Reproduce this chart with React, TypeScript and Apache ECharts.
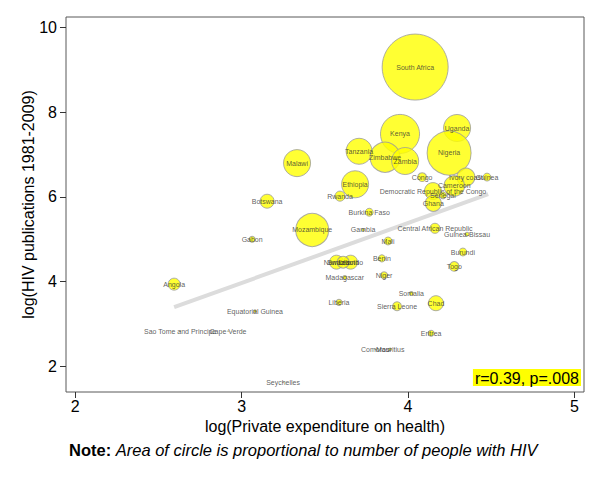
import React, { useEffect, useRef } from "react";
import * as echarts from "echarts";

const countries = [
  "South Africa", "Kenya", "Uganda", "Nigeria", "Tanzania", "Zimbabwe", "Zambia", "Malawi",
  "Ethiopia", "Rwanda", "Botswana", "Mozambique", "Gabon", "Angola", "Equatorial Guinea",
  "Sao Tome and Principe", "Cape Verde", "Seychelles", "Congo", "Ivory coast", "Guinea",
  "Cameroon", "Democratic Republic of the Congo", "Senegal", "Ghana", "Burkina Faso", "Gambia",
  "Central African Republic", "Guinea-Bissau", "Mali", "Burundi", "Benin", "Togo", "Namibia",
  "Lesotho", "Swaziland", "Madagascar", "Niger", "Somalia", "Liberia", "Sierra Leone", "Chad",
  "Eritrea", "Comoros", "Mauritius",
];
// log(Private expenditure on health)
const expenditure = [
  4.043, 3.952, 4.295, 4.247, 3.706, 3.862, 3.983, 3.333,
  3.682, 3.591, 3.153, 3.424, 3.063, 2.594, 3.08,
  2.63, 2.918, 3.249, 4.085, 4.348, 4.475,
  4.278, 4.15, 4.21, 4.152, 3.767, 3.73,
  4.162, 4.355, 3.88, 4.33, 3.843, 4.278, 3.57,
  3.655, 3.61, 3.62, 3.856, 4.02, 3.585, 3.934, 4.168,
  4.139, 3.803, 3.893,
];
// log(HIV publications 1981-2009)
const publications = [
  9.07, 7.49, 7.63, 7.04, 7.08, 6.94, 6.85, 6.8,
  6.3, 6.02, 5.9, 5.22, 5.0, 3.94, 3.3,
  2.83, 2.83, 1.62, 6.47, 6.47, 6.47,
  6.26, 6.14, 6.04, 5.85, 5.64, 5.22,
  5.26, 5.12, 4.96, 4.7, 4.55, 4.36, 4.46,
  4.46, 4.46, 4.1, 4.15, 3.72, 3.51, 3.42, 3.49,
  2.78, 2.4, 2.4,
];
// people living with HIV (thousands, estimated from circle areas)
const hivPeople = [
  5600, 1960, 940, 2490, 870, 1160, 940, 940,
  940, 130, 250, 1400, 46, 185, 12,
  1, 1, 1, 100, 415, 80,
  540, 370, 60, 330, 80, 10,
  130, 20, 80, 80, 63, 120, 250,
  250, 180, 20, 63, 20, 46, 100, 290,
  46, 1, 10,
];
const fitX = [2.594, 4.482];
const fitY = [3.395, 6.067];
const xTicks = [2, 3, 4, 5];
const yTicks = [2, 4, 6, 8, 10];

const FONT = 'Arial, "Liberation Sans", sans-serif';

export default function App() {
  const ref = useRef<HTMLDivElement>(null);
  useEffect(() => {
    if (!ref.current) return;
    const chart = echarts.init(ref.current, undefined, { renderer: "svg" });
    const pts = countries.map((c, i) => ({
      name: c,
      value: [expenditure[i], publications[i]],
      symbolSize: Math.max(2 * Math.sqrt(hivPeople[i] / 5.14), 0.5),
    }));
    const labelPts = countries.map((c, i) => ({
      name: c,
      value: [expenditure[i], publications[i]],
    }));
    const option: any = {
      animation: false,
      textStyle: { fontFamily: FONT },
      grid: {
        left: 66, top: 17, width: 518, height: 375,
        show: true, borderColor: "#595959", borderWidth: 1, backgroundColor: "#fff",
      },
      xAxis: {
        type: "value", min: 1.944, max: 5.058,
        axisLine: { show: false },
        splitLine: { show: false },
        axisTick: { show: true, length: 6, customValues: xTicks, lineStyle: { color: "#333" } },
        axisLabel: { customValues: xTicks, fontSize: 16, color: "#000", margin: 6, fontFamily: FONT },
        name: "log(Private expenditure on health)",
        nameLocation: "middle", nameGap: 25,
        nameTextStyle: { fontSize: 16, color: "#000", fontFamily: FONT },
      },
      yAxis: {
        type: "value", min: 1.392, max: 10.253,
        axisLine: { show: false },
        splitLine: { show: false },
        axisTick: { show: true, length: 6, customValues: yTicks, lineStyle: { color: "#333" } },
        axisLabel: { customValues: yTicks, fontSize: 16, color: "#000", margin: 9, fontFamily: FONT },
        name: "log(HIV publications 1981-2009)",
        nameLocation: "middle", nameGap: 30, nameRotate: 90, nameMoveOverlap: false,
        nameTextStyle: { fontSize: 16, color: "#000", fontFamily: FONT },
      },
      series: [
        {
          type: "line",
          data: fitX.map((x, i) => [x, fitY[i]]),
          showSymbol: false, symbol: "none",
          lineStyle: { color: "#dcdcdc", width: 4 },
          z: 1,
        },
        {
          type: "scatter",
          data: pts,
          itemStyle: { color: "#ffff00", borderColor: "#9a9a9a", borderWidth: 1 },
          z: 2,
        },
        {
          type: "scatter",
          data: labelPts,
          symbolSize: 1,
          itemStyle: { color: "rgba(0,0,0,0)" },
          label: {
            show: true, position: "inside", formatter: "{b}",
            fontSize: 7, color: "#333333", fontFamily: FONT,
          },
          z: 3,
        },
      ],
      graphic: [
        {
          type: "text", right: 19, top: 369,
          style: {
            text: "r=0.39, p=.008", fontSize: 16, fill: "#000", fontFamily: FONT,
            backgroundColor: "#ffff00", padding: [1, 2, 0, 2],
          },
        },
        {
          type: "text", left: 69, top: 441,
          style: {
            text: "{b|Note:} {i|Area of circle is proportional to number of people with HIV}",
            fontSize: 16.5, fill: "#000", fontFamily: FONT,
            rich: {
              b: { fontWeight: "bold", fontSize: 16.5, fontFamily: FONT, fill: "#000" },
              i: { fontStyle: "italic", fontSize: 16.5, fontFamily: FONT, fill: "#000" },
            },
          },
        },
      ],
    };
    chart.setOption(option);
    return () => chart.dispose();
  }, []);
  return (
    <div
      ref={ref}
      style={{ position: "fixed", left: 0, top: 0, width: 600, height: 480, background: "#fff" }}
    />
  );
}
